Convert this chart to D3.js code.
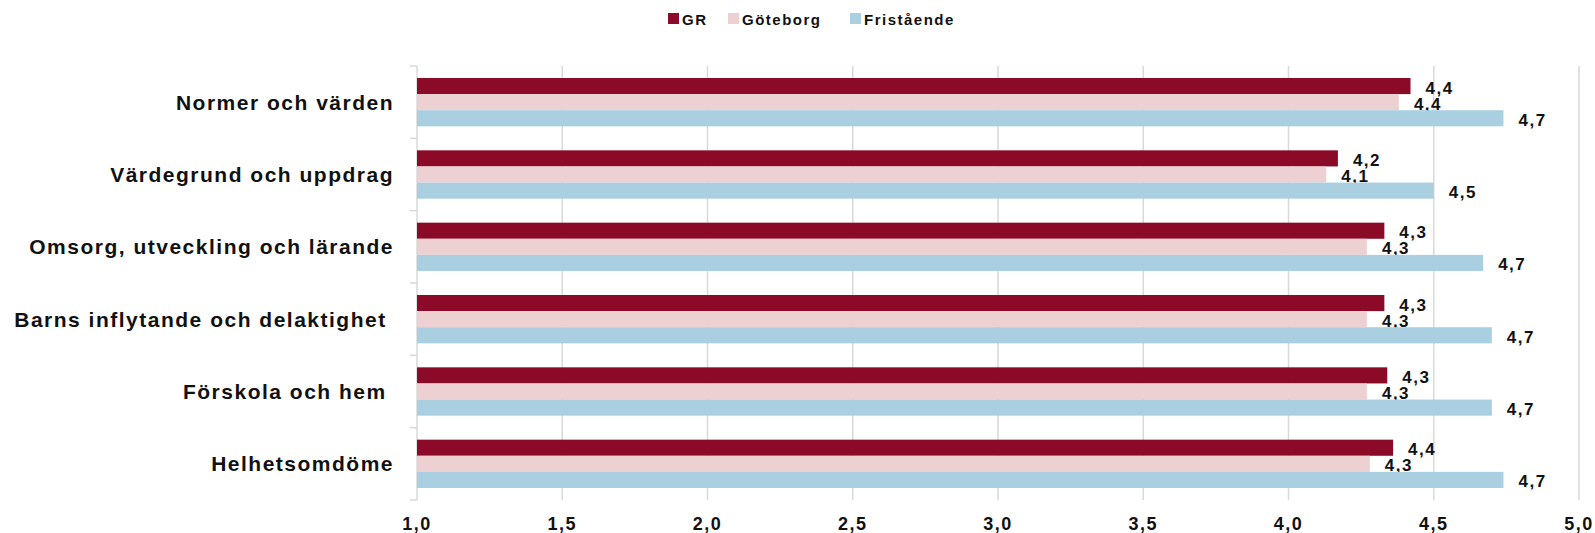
<!DOCTYPE html>
<html>
<head>
<meta charset="utf-8">
<script src="https://cdn.jsdelivr.net/npm/d3@7.9.0/dist/d3.min.js"></script>
<style>
  body { margin: 0; background: #fff; }
  svg text { font-family: "Liberation Sans", Arial, sans-serif; font-weight: bold; fill: #111; letter-spacing: 1.5px; }
</style>
</head>
<body>
<svg width="1595" height="533"></svg>
<script>
const categories = [
  'Normer och värden',
  'Värdegrund och uppdrag',
  'Omsorg, utveckling och lärande',
  'Barns inflytande och delaktighet ',
  'Förskola och hem ',
  'Helhetsomdöme'
];
const seriesNames = ['GR', 'Göteborg', 'Fristående'];
const grValues = [4.42, 4.17, 4.33, 4.33, 4.34, 4.36];
const gbgValues = [4.38, 4.13, 4.27, 4.27, 4.27, 4.28];
const friValues = [4.74, 4.50, 4.67, 4.70, 4.70, 4.74];
const xTicks = [1.0, 1.5, 2.0, 2.5, 3.0, 3.5, 4.0, 4.5, 5.0];

const colors = d3.scaleOrdinal().domain(seriesNames).range(['#8b0a28', '#edd0d1', '#a9cfe1']);
const values = [grValues, gbgValues, friValues];

const svg = d3.select('svg');
const x = d3.scaleLinear().domain([1, 5]).range([417, 1579]);
const y = d3.scaleBand().domain(categories).range([66, 500]);
const y1 = d3.scaleBand().domain(seriesNames).range([12, y.bandwidth() - 12]);
const comma = v => d3.format('.1f')(v).replace('.', ',');

// gridlines
svg.append('g')
  .selectAll('line')
  .data(xTicks.slice(1))
  .join('line')
  .attr('x1', d => x(d)).attr('x2', d => x(d))
  .attr('y1', 66).attr('y2', 500)
  .attr('stroke', '#d9d9d9').attr('stroke-width', 1.5);

// left axis line + category ticks
svg.append('line')
  .attr('x1', x(1)).attr('x2', x(1)).attr('y1', 66).attr('y2', 500)
  .attr('stroke', '#d9d9d9').attr('stroke-width', 1.5);
svg.append('g')
  .selectAll('line')
  .data(categories.concat(['end']))
  .join('line')
  .attr('x1', x(1) - 7).attr('x2', x(1))
  .attr('y1', (d, i) => 66 + i * y.step()).attr('y2', (d, i) => 66 + i * y.step())
  .attr('stroke', '#d9d9d9').attr('stroke-width', 1.5);

// bars
const groups = svg.append('g')
  .selectAll('g')
  .data(categories)
  .join('g')
  .attr('transform', d => `translate(0,${y(d)})`);

groups.each(function (cat, ci) {
  const g = d3.select(this);
  seriesNames.forEach((s, si) => {
    const v = values[si][ci];
    g.append('rect')
      .attr('x', x(1))
      .attr('y', y1(s))
      .attr('width', x(v) - x(1))
      .attr('height', y1.bandwidth())
      .attr('fill', colors(s));
    g.append('text')
      .attr('x', x(v) + 15)
      .attr('y', y1(s) + y1.bandwidth() / 2 + 2)
      .attr('dominant-baseline', 'central')
      .attr('font-size', 17)
      .text(comma(v));
  });
});

// category labels
svg.append('g')
  .selectAll('text')
  .data(categories)
  .join('text')
  .attr('x', 394)
  .attr('y', d => y(d) + y.bandwidth() / 2)
  .attr('text-anchor', 'end')
  .attr('dominant-baseline', 'central')
  .attr('font-size', 21)
  .style('white-space', 'pre')
  .text(d => d);

// x tick labels
svg.append('g')
  .selectAll('text')
  .data(xTicks)
  .join('text')
  .attr('x', d => x(d))
  .attr('y', 524)
  .attr('text-anchor', 'middle')
  .attr('dominant-baseline', 'central')
  .attr('font-size', 18)
  .text(d => comma(d));

// legend
const legendX = [668, 728, 850];
const legend = svg.append('g')
  .selectAll('g')
  .data(seriesNames)
  .join('g')
  .attr('transform', (d, i) => `translate(${legendX[i]},13)`);
legend.append('rect').attr('width', 11).attr('height', 11).attr('fill', d => colors(d));
legend.append('text')
  .attr('x', 14).attr('y', 6)
  .attr('dominant-baseline', 'central')
  .attr('font-size', 15)
  .text(d => d);
</script>
</body>
</html>
